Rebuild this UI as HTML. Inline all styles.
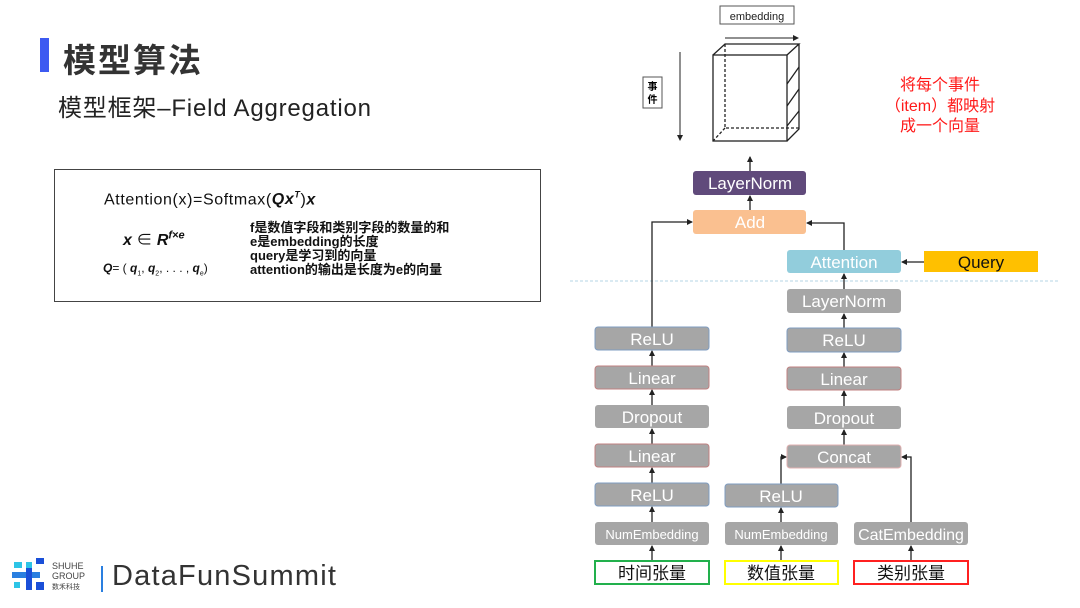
<!DOCTYPE html>
<html><head><meta charset="utf-8"><style>
html,body{margin:0;padding:0;background:#fff;}
body{width:1080px;height:608px;position:relative;overflow:hidden;font-family:"Liberation Sans","Noto Sans CJK SC",sans-serif;}
.a{position:absolute;white-space:nowrap;}
</style></head><body>
<div class="a" style="left:40px;top:38px;width:9px;height:34px;background:#3d5af1"></div>
<div class="a" style="left:63px;top:34px;font-size:33px;font-weight:bold;color:#333;letter-spacing:2px;">模型算法</div>
<div class="a" style="left:58px;top:88px;font-size:24px;color:#222;letter-spacing:0.8px;">模型框架–Field Aggregation</div>

<div class="a" style="left:54px;top:169px;width:485px;height:131px;border:1.5px solid #444;"></div>
<div class="a" style="left:104px;top:190px;font-size:16px;color:#111;letter-spacing:0.6px;">Attention(x)=Softmax(<b><i>Qx<sup style="font-size:9px">T</sup></i></b>)<b><i>x</i></b></div>
<div class="a" style="left:123px;top:226px;font-size:16px;color:#111;"><b><i>x</i></b> ∈ <b><i>R<sup style="font-size:11px">f×e</sup></i></b></div>
<div class="a" style="left:103px;top:261px;font-size:12px;color:#111;"><b><i>Q</i></b>= ( <b><i>q</i></b><sub style="font-size:7px">1</sub>, <b><i>q</i></b><sub style="font-size:7px">2</sub>, . . . , <b><i>q</i></b><sub style="font-size:7px">e</sub>)</div>
<div class="a" style="left:250px;top:221px;font-size:13px;line-height:14px;color:#111;font-weight:bold;">f是数值字段和类别字段的数量的和<br>e是embedding的长度<br>query是学习到的向量<br>attention的输出是长度为e的向量</div>

<svg class="a" style="left:12px;top:556px" width="80" height="40">
<rect x="2" y="6" width="8" height="6" fill="#2ec4e6"/><rect x="14" y="6" width="6" height="6" fill="#2ec4e6"/><rect x="24" y="2" width="8" height="6" fill="#1a4fd8"/>
<rect x="0" y="16" width="28" height="6" fill="#2a7fe0"/><rect x="14" y="12" width="6" height="22" fill="#1a4fd8"/>
<rect x="2" y="26" width="6" height="6" fill="#2ec4e6"/><rect x="24" y="26" width="8" height="8" fill="#1a4fd8"/>
</svg>
<div class="a" style="left:52px;top:561px;font-size:9px;line-height:10px;color:#444;">SHUHE<br>GROUP<br><span style="font-size:7px">数禾科技</span></div>
<div class="a" style="left:101px;top:566px;width:2px;height:26px;background:#2a7fe0"></div>
<div class="a" style="left:112px;top:560px;font-size:29px;color:#333;letter-spacing:1.2px;">DataFunSummit</div>

<svg class="a" style="left:0;top:0" width="1080" height="608" font-family="Liberation Sans, Noto Sans CJK SC, sans-serif">
<defs><marker id="m" markerWidth="6" markerHeight="6" refX="5" refY="3" orient="auto" markerUnits="userSpaceOnUse"><path d="M0,0 L6,3 L0,6 z" fill="#222"/></marker></defs>
<line x1="570" y1="281" x2="1060" y2="281" stroke="#9cc9dc" stroke-width="0.8" stroke-dasharray="3,2"/>
<rect x="720" y="6" width="74" height="18" fill="#fff" stroke="#555"/>
<text x="757" y="20" font-size="11" text-anchor="middle" fill="#222">embedding</text>
<line x1="725" y1="38" x2="798" y2="38" stroke="#222" marker-end="url(#m)"/>
<rect x="643" y="77" width="19" height="31" fill="#fff" stroke="#555"/>
<text x="652.5" y="90" font-size="10" text-anchor="middle" font-weight="bold">事</text>
<text x="652.5" y="103" font-size="10" text-anchor="middle" font-weight="bold">件</text>
<line x1="680" y1="52" x2="680" y2="140" stroke="#222" marker-end="url(#m)"/>
<g fill="none" stroke="#222" stroke-width="1.3">
<rect x="713" y="55" width="74" height="86"/>
<path d="M713,55 L725,44 L799,44 L787,55 M799,44 L799,129 L787,141"/>
<path d="M787,84 L799,67 M787,106 L799,89 M787,126 L799,111"/>
<path d="M725,44 L725,128 L799,128 M725,128 L713,141" stroke-dasharray="3,2"/>
</g>
<g fill="#ff1a1a" font-size="16" text-anchor="middle">
<text x="940" y="90">将每个事件</text><text x="940" y="111">（item）都映射</text><text x="940" y="131">成一个向量</text></g>
<g stroke="#222" stroke-width="1.3" fill="none">
<line x1="750" y1="171" x2="750" y2="157" marker-end="url(#m)"/>
<line x1="750" y1="210" x2="750" y2="196" marker-end="url(#m)"/>
<polyline points="652,327 652,222 692,222" marker-end="url(#m)"/>
<polyline points="844,250 844,223 807,223" marker-end="url(#m)"/>
<line x1="924" y1="262" x2="902" y2="262" marker-end="url(#m)"/>
<line x1="844" y1="289" x2="844" y2="274" marker-end="url(#m)"/>
<line x1="844" y1="328" x2="844" y2="314" marker-end="url(#m)"/>
<line x1="844" y1="367" x2="844" y2="353" marker-end="url(#m)"/>
<line x1="844" y1="406" x2="844" y2="391" marker-end="url(#m)"/>
<line x1="844" y1="445" x2="844" y2="430" marker-end="url(#m)"/>
<line x1="652" y1="366" x2="652" y2="351" marker-end="url(#m)"/>
<line x1="652" y1="405" x2="652" y2="390" marker-end="url(#m)"/>
<line x1="652" y1="444" x2="652" y2="429" marker-end="url(#m)"/>
<line x1="652" y1="483" x2="652" y2="468" marker-end="url(#m)"/>
<line x1="652" y1="522" x2="652" y2="507" marker-end="url(#m)"/>
<line x1="652" y1="561" x2="652" y2="546" marker-end="url(#m)"/>
<line x1="781" y1="522" x2="781" y2="508" marker-end="url(#m)"/>
<line x1="781" y1="561" x2="781" y2="546" marker-end="url(#m)"/>
<polyline points="781,484 781,457 786,457" marker-end="url(#m)"/>
<polyline points="911,522 911,457 902,457" marker-end="url(#m)"/>
<line x1="911" y1="561" x2="911" y2="546" marker-end="url(#m)"/>
</g>
<g font-size="17" text-anchor="middle" fill="#fff">
<rect x="693" y="171" width="113" height="24" rx="3" fill="#604a7b"/><text x="750" y="189">LayerNorm</text>
<rect x="693" y="210" width="113" height="24" rx="3" fill="#fac090"/><text x="750" y="228">Add</text>
<rect x="787" y="250" width="114" height="23" rx="3" fill="#92cddc"/><text x="844" y="268">Attention</text>
<rect x="924" y="251" width="114" height="21" fill="#ffc000"/><text x="981" y="268" fill="#111">Query</text>
<g fill="#a6a6a6" stroke-width="1">
<rect x="787" y="289" width="114" height="24" rx="3"/>
<rect x="787" y="328" width="114" height="24" rx="3" stroke="#7f9cc0"/>
<rect x="787" y="367" width="114" height="23" rx="3" stroke="#c08080"/>
<rect x="787" y="406" width="114" height="23" rx="3"/>
<rect x="787" y="445" width="114" height="23" rx="3" stroke="#e0b0b0"/>
<rect x="595" y="327" width="114" height="23" rx="3" stroke="#7f9cc0"/>
<rect x="595" y="366" width="114" height="23" rx="3" stroke="#c08080"/>
<rect x="595" y="405" width="114" height="23" rx="3"/>
<rect x="595" y="444" width="114" height="23" rx="3" stroke="#c08080"/>
<rect x="595" y="483" width="114" height="23" rx="3" stroke="#7f9cc0"/>
<rect x="595" y="522" width="114" height="23" rx="3"/>
<rect x="725" y="484" width="113" height="23" rx="3" stroke="#7f9cc0"/>
<rect x="725" y="522" width="113" height="23" rx="3"/>
<rect x="854" y="522" width="114" height="23" rx="3"/>
</g>
<text x="844" y="307">LayerNorm</text><text x="844" y="346">ReLU</text><text x="844" y="385">Linear</text><text x="844" y="424">Dropout</text><text x="844" y="463">Concat</text>
<text x="652" y="345">ReLU</text><text x="652" y="384">Linear</text><text x="652" y="423">Dropout</text><text x="652" y="462">Linear</text><text x="652" y="501">ReLU</text>
<text x="781" y="502">ReLU</text>
<text x="652" y="539" font-size="13">NumEmbedding</text>
<text x="781" y="539" font-size="13">NumEmbedding</text>
<text x="911" y="540" font-size="16">CatEmbedding</text>
</g>
<g font-size="17" text-anchor="middle" fill="#111" stroke-width="2">
<rect x="595" y="561" width="114" height="23" fill="#fff" stroke="#22b04c"/><text x="652" y="579">时间张量</text>
<rect x="725" y="561" width="113" height="23" fill="#fff" stroke="#ffff00"/><text x="781" y="579">数值张量</text>
<rect x="854" y="561" width="114" height="23" fill="#fff" stroke="#ff2020"/><text x="911" y="579">类别张量</text>
</g>
</svg>
</body></html>
